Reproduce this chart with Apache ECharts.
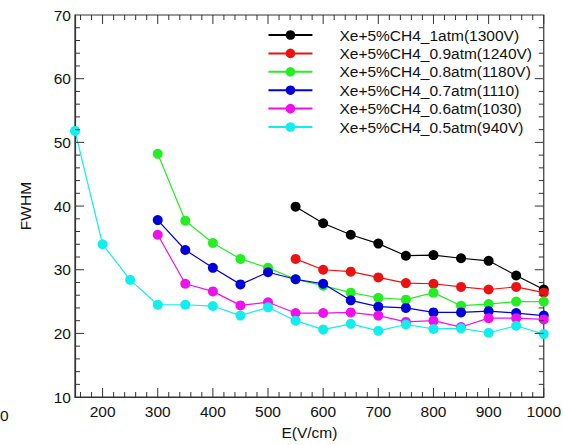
<!DOCTYPE html>
<html>
<head>
<meta charset="utf-8">
<script src="https://cdn.jsdelivr.net/npm/echarts@6/dist/echarts.min.js"></script>
<style>
html,body{margin:0;padding:0;background:#fff;}
#chart{width:564px;height:445px;}
</style>
</head>
<body>
<div id="chart"></div>
<script>
// ---- data ----
const seriesNames = [
  'Xe+5%CH4_1atm(1300V)',
  'Xe+5%CH4_0.9atm(1240V)',
  'Xe+5%CH4_0.8atm(1180V)',
  'Xe+5%CH4_0.7atm(1110)',
  'Xe+5%CH4_0.6atm(1030)',
  'Xe+5%CH4_0.5atm(940V)'
];
const eHigh = [550, 600, 650, 700, 750, 800, 850, 900, 950, 1000];
const eMid = [300, 350, 400, 450, 500, 550, 600, 650, 700, 750, 800, 850, 900, 950, 1000];
const eLow = [150, 200, 250, 300, 350, 400, 450, 500, 550, 600, 650, 700, 750, 800, 850, 900, 950, 1000];

const fwhm1atm  = [39.9, 37.3, 35.5, 34.1, 32.2, 32.3, 31.8, 31.4, 29.1, 26.9];
const fwhm09atm = [31.7, 30.0, 29.7, 28.8, 27.9, 27.8, 27.3, 26.9, 27.3, 26.4];
const fwhm08atm = [48.2, 37.7, 34.2, 31.7, 30.3, 28.5, 27.5, 26.4, 25.6, 25.3, 26.4, 24.35, 24.6, 25.0, 25.0];
const fwhm07atm = [37.8, 33.1, 30.3, 27.7, 29.6, 28.5, 27.8, 25.2, 24.2, 24.0, 23.3, 23.3, 23.5, 23.2, 22.8];
const fwhm06atm = [35.5, 27.8, 26.6, 24.4, 24.9, 23.2, 23.2, 23.3, 22.8, 21.8, 22.0, 21.0, 22.4, 22.4, 22.2];
const fwhm05atm = [51.8, 34.0, 28.4, 24.5, 24.5, 24.3, 22.8, 24.1, 22.0, 20.6, 21.5, 20.4, 21.4, 20.7, 20.8, 20.1, 21.2, 19.9];

const xTickLabels = [200, 300, 400, 500, 600, 700, 800, 900, 1000];
const yTickLabels = [10, 20, 30, 40, 50, 60, 70];
const colors = ['#000000', '#ee1111', '#22ee22', '#0000dd', '#ee11ee', '#11eeee'];

// ---- build ----
const X_MIN = 150, X_MAX = 1000, Y_MIN = 10, Y_MAX = 70;
const xTickValues = [];   // every 20 (minor), majors at multiples of 100
for (let v = 160; v <= X_MAX; v += 20) xTickValues.push(v);
const yTickValues = [];   // every 2 (minor), majors at multiples of 10
for (let v = Y_MIN + 2; v < Y_MAX; v += 2) yTickValues.push(v);

function pairs(xs, ys) { return xs.map((x, i) => [x, ys[i]]); }
const seriesData = [
  pairs(eHigh, fwhm1atm),
  pairs(eHigh, fwhm09atm),
  pairs(eMid, fwhm08atm),
  pairs(eMid, fwhm07atm),
  pairs(eMid, fwhm06atm),
  pairs(eLow, fwhm05atm)
];

const font = 'Liberation Sans, Arial, sans-serif';
const FS = 15.5;
const TC = '#333';
const axisLineOn = { show: true, lineStyle: { color: TC, width: 1.2 } };
const MAJ = 9, MIN = 5;

// inside ticks (thin filled rects) on top and bottom edges, positioned by the x scale
function xTickItem(params, api) {
  const v = api.value(0);
  const cs = params.coordSys;
  const px = api.coord([v, Y_MIN])[0];
  const len = v % 100 === 0 ? MAJ : MIN;
  const bottom = cs.y + cs.height, top = cs.y;
  const st = { fill: TC };
  return { type: 'group', children: [
    { type: 'rect', shape: { x: px - 0.5, y: bottom - len, width: 1, height: len }, style: st },
    { type: 'rect', shape: { x: px - 0.5, y: top, width: 1, height: len }, style: st }
  ] };
}
// inside ticks on left and right edges, positioned by the y scale
function yTickItem(params, api) {
  const v = api.value(1);
  const cs = params.coordSys;
  const py = api.coord([X_MIN, v])[1];
  const len = v % 10 === 0 ? MAJ : MIN;
  const left = cs.x, right = cs.x + cs.width;
  const st = { fill: TC };
  return { type: 'group', children: [
    { type: 'rect', shape: { x: left, y: py - 0.5, width: len, height: 1 }, style: st },
    { type: 'rect', shape: { x: right - len, y: py - 0.5, width: len, height: 1 }, style: st }
  ] };
}

const chart = echarts.init(document.getElementById('chart'), null, { renderer: 'svg' });
chart.setOption({
  animation: false,
  backgroundColor: '#fff',
  grid: {
    left: 75, right: 15, top: 15, bottom: 40, containLabel: false,
    show: true, backgroundColor: 'transparent', borderColor: TC, borderWidth: 1.2
  },
  legend: {
    right: 27, top: 22, orient: 'vertical',
    itemWidth: 44, itemHeight: 12, itemGap: 2.4,
    data: seriesNames,
    textStyle: { fontSize: FS, fontFamily: font, color: '#111', padding: [0, 0, 0, 22], lineHeight: 14 }
  },
  graphic: [{ type: 'text', left: 0, top: 407, style: { text: '0', fontSize: FS, fontFamily: font, fill: '#111' } }],
  xAxis: [
    {
      type: 'value', position: 'bottom', min: X_MIN, max: X_MAX, interval: 10,
      axisLine: axisLineOn,
      axisTick: { show: false },
      axisLabel: {
        color: '#111', fontSize: FS, fontFamily: font, margin: 6,
        formatter: v => (xTickLabels.indexOf(v) >= 0 ? String(v) : '')
      },
      splitLine: { show: false },
      name: 'E(V/cm)', nameLocation: 'middle', nameGap: 25,
      nameTextStyle: { fontSize: FS, fontFamily: font, color: '#111' }
    }
  ],
  yAxis: [
    {
      type: 'value', position: 'left', min: Y_MIN, max: Y_MAX, interval: 10,
      axisLine: axisLineOn,
      axisTick: { show: false },
      axisLabel: { color: '#111', fontSize: FS, fontFamily: font, margin: 4 },
      splitLine: { show: false },
      name: 'FWHM', nameLocation: 'middle', nameGap: 42,
      nameTextStyle: { fontSize: FS, fontFamily: font, color: '#111' }
    }
  ],
  series: [
    {
      type: 'custom', name: 'xticks', xAxisIndex: 0, yAxisIndex: 0, silent: true, clip: false, z: 20,
      renderItem: xTickItem, data: xTickValues.map(v => [v, Y_MIN]), tooltip: { show: false }
    },
    {
      type: 'custom', name: 'yticks', xAxisIndex: 0, yAxisIndex: 0, silent: true, clip: false, z: 20,
      renderItem: yTickItem, data: yTickValues.map(v => [X_MIN, v]), tooltip: { show: false }
    }
  ].concat(seriesNames.map((name, i) => ({
    name: name,
    type: 'line',
    xAxisIndex: 0, yAxisIndex: 0,
    data: seriesData[i],
    symbol: 'circle', symbolSize: 10,
    color: colors[i],
    itemStyle: { color: colors[i] },
    lineStyle: { color: colors[i], width: 1.2 },
    z: 2 + i
  })))
});
</script>
</body>
</html>
